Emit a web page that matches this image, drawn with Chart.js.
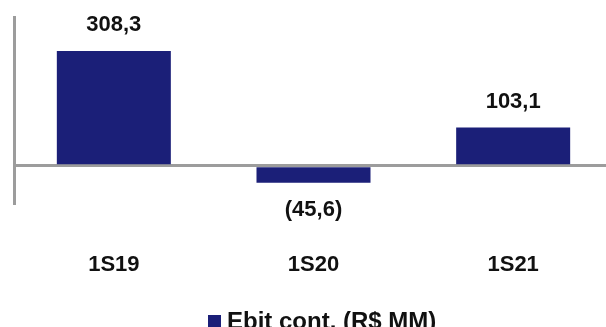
<!DOCTYPE html>
<html>
<head>
<meta charset="utf-8">
<script src="https://cdn.jsdelivr.net/npm/chart.js@4/dist/chart.umd.min.js"></script>
<style>
  html, body { margin: 0; padding: 0; background: #fff; overflow: hidden; }
  #wrap { width: 620px; height: 327px; position: relative; }
</style>
</head>
<body>
<div id="wrap"><canvas id="c" width="620" height="327"></canvas></div>
<script>
// Half-year periods and continuing EBIT (R$ MM)
const categories = ['1S19', '1S20', '1S21'];
const ebitValues = [308.3, -45.6, 103.1];
const seriesLabel = 'Ebit cont. (R$ MM)';

const BAR_COLOR = '#1b1f78';
const AXIS_COLOR = '#9c9c9c';
const TEXT_COLOR = '#111111';
const FONT = '"Liberation Sans", Arial, sans-serif';

function fmt(v) {
  const s = Math.abs(v).toFixed(1).replace('.', ',');
  return v < 0 ? '(' + s + ')' : s;
}

// Value labels above positive bars, below negative ones
const valueLabels = {
  id: 'valueLabels',
  afterDatasetsDraw(chart) {
    const ctx = chart.ctx;
    const meta = chart.getDatasetMeta(0);
    ctx.save();
    ctx.font = 'bold 22px ' + FONT;
    ctx.fillStyle = TEXT_COLOR;
    ctx.textAlign = 'center';
    ctx.textBaseline = 'middle';
    meta.data.forEach((bar, i) => {
      const v = chart.data.datasets[0].data[i];
      const y = v >= 0 ? bar.y - 26 : bar.y + 27;
      ctx.fillText(fmt(v), bar.x, y);
    });
    ctx.restore();
  }
};

// Single-entry legend under the axis labels
const bottomLegend = {
  id: 'bottomLegend',
  afterDraw(chart) {
    const ctx = chart.ctx;
    const ds = chart.data.datasets[0];
    ctx.save();
    ctx.fillStyle = ds.backgroundColor;
    ctx.fillRect(208, 315, 13, 13);
    ctx.font = 'bold 24px ' + FONT;
    ctx.fillStyle = TEXT_COLOR;
    ctx.textAlign = 'left';
    ctx.textBaseline = 'alphabetic';
    ctx.fillText(ds.label, 227, 329);
    ctx.restore();
  }
};

new Chart(document.getElementById('c'), {
  type: 'bar',
  data: {
    labels: categories,
    datasets: [{
      label: seriesLabel,
      data: ebitValues,
      backgroundColor: BAR_COLOR,
      borderWidth: 0,
      categoryPercentage: 1.0,
      barPercentage: 0.571
    }]
  },
  options: {
    responsive: false,
    animation: false,
    layout: { padding: { top: 17, left: 14, right: 7, bottom: 49 } },
    plugins: {
      legend: { display: false },
      tooltip: { enabled: false }
    },
    scales: {
      x: {
        grid: { display: false, drawTicks: false },
        border: { display: false },
        afterFit: (scale) => { scale.height = 75; },
        ticks: {
          padding: 49,
          maxRotation: 0,
          color: TEXT_COLOR,
          font: { family: FONT, size: 22, weight: 'bold' }
        }
      },
      y: {
        min: -100,
        max: 400,
        ticks: { display: false, stepSize: 100 },
        grid: {
          drawTicks: false,
          lineWidth: 3,
          color: (c) => (c.tick && c.tick.value === 0 ? AXIS_COLOR : 'rgba(0,0,0,0)')
        },
        border: { display: true, color: AXIS_COLOR, width: 3 }
      }
    }
  },
  plugins: [valueLabels, bottomLegend]
});
</script>
</body>
</html>
